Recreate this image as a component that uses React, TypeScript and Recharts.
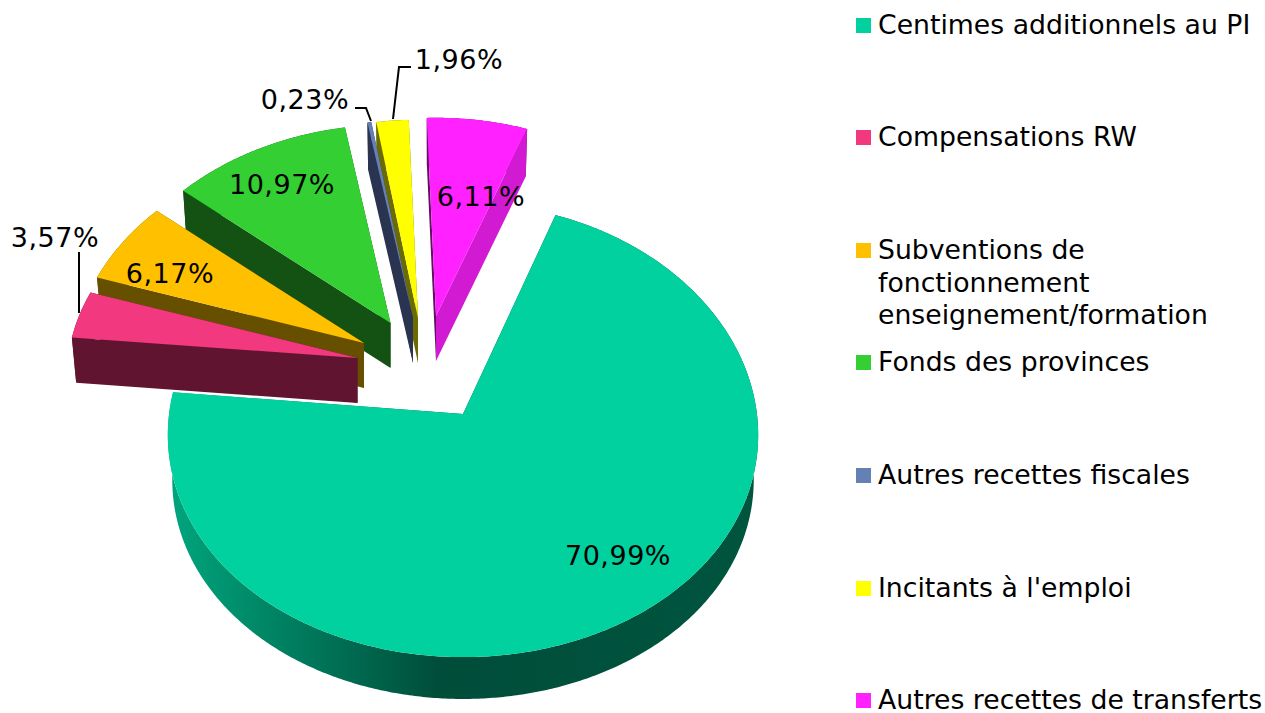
import { PieChart, Pie, Legend } from 'recharts';

const categories = [
  'Centimes additionnels au PI',
  'Compensations RW',
  'Subventions de fonctionnement enseignement/formation',
  'Fonds des provinces',
  'Autres recettes fiscales',
  "Incitants à l'emploi",
  'Autres recettes de transferts',
];
const shares = [70.99, 3.57, 6.17, 10.97, 0.23, 1.96, 6.11];
const shareLabels = ['70,99%', '3,57%', '6,17%', '10,97%', '0,23%', '1,96%', '6,11%'];
const topColors = ['#00D19E', '#F2387F', '#FFC000', '#33CF33', '#6480B4', '#FFFF00', '#FF21FF'];
const faceColors = ['url(#mainWall)', '#601430', '#665000', '#145214', '#2A3350', '#6B6B00', '#660D66'];
const otherFaceColors = ['url(#mainWall)', '#601430', '#665000', '#145214', '#2A3350', '#6B6B00', '#D31AD3'];

// how far each slice is pulled out of the pie, from the centre
const explodeX = [0, -105.5, -99, -72.5, -50, -45, -27];
const explodeY = [0, -56, -71, -91, -96, -96, -98];
const labelX = [618, 55, 170, 282, 305, 459, 481];
const labelY = [555, 237, 273, 184, 99, 59, 196];
const leaderLines: (string | null)[] = [
  null,
  '79,252 79,313',
  null,
  null,
  '355,108 366,108 371,121',
  '411,67 399,67 393,119',
  null,
];
const legendRows = [25, 137, 250, 362, 475, 588, 700];
const legendLines = [
  ['Centimes additionnels au PI'],
  ['Compensations RW'],
  ['Subventions de', 'fonctionnement', 'enseignement/formation'],
  ['Fonds des provinces'],
  ['Autres recettes fiscales'],
  ["Incitants à l'emploi"],
  ['Autres recettes de transferts'],
];
const drawOrder = [6, 5, 4, 3, 2, 1, 0];

const data = categories.map((name, i) => ({ name, value: shares[i], fill: topColors[i] }));

const FONT = '"DejaVu Sans", Verdana, sans-serif';
const CX = 463;
const CY = 414;
const RADIUS = 296;
const DEPTH = 45;

// rough perspective: the far side of the disc comes out smaller,
// and the pulled slices sit further back so they shrink a bit more
function project(deg: number, r: number, pulled: boolean, low: boolean) {
  const t = ((90 - deg) * Math.PI) / 180;
  const c = Math.cos(t);
  const s = Math.sin(t);
  const sx = (pulled ? 0.985 : 1) * (low ? 0.985 : 1);
  const sy = (pulled ? 0.94 : 1) * (low ? 0.987 : 1);
  return {
    x: ((r * 0.993 * s) / (1 + 0.092 * c)) * sx,
    y: ((-r * 0.763 * c) / (1 + 0.071 * c)) * sy,
  };
}

function arcPoints(start: number, end: number, r: number, ox: number, oy: number, pulled: boolean, low: boolean) {
  const steps = Math.max(2, Math.ceil(Math.abs(end - start) * 2));
  const pts: string[] = [];
  for (let i = 0; i <= steps; i++) {
    const p = project(start + ((end - start) * i) / steps, r, pulled, low);
    pts.push(`${ox + p.x},${oy + p.y}`);
  }
  return pts;
}

function sliceShape(target: number) {
  return (props: any) => {
    if (props.name !== categories[target]) return <g />;
    const { cx, cy, startAngle, endAngle, outerRadius } = props;
    const ox = cx + explodeX[target];
    const oy = cy + explodeY[target];
    const pulled = target !== 0;
    const top = arcPoints(startAngle, endAngle, outerRadius, ox, oy, pulled, false);
    const low = arcPoints(startAngle, endAngle, outerRadius, ox, oy + DEPTH, pulled, true);
    const apexLow = `${ox},${oy + DEPTH}`;
    const apexTop = `${ox},${oy}`;
    return (
      <g>
        <polygon points={[...top, ...low.slice().reverse()].join(' ')} fill={faceColors[target]} />
        <polygon points={[apexTop, top[0], low[0], apexLow].join(' ')} fill={faceColors[target]} />
        <polygon
          points={[apexTop, top[top.length - 1], low[low.length - 1], apexLow].join(' ')}
          fill={otherFaceColors[target]}
        />
        <polygon points={[apexTop, ...top].join(' ')} fill={topColors[target]} />
      </g>
    );
  };
}

function renderLabel(props: any) {
  const i = categories.indexOf(props.name);
  const line = leaderLines[i];
  return (
    <g key={i}>
      {line && <polyline points={line} fill="none" stroke="#000" strokeWidth={2} />}
      <text
        x={labelX[i]}
        y={labelY[i]}
        textAnchor="middle"
        dominantBaseline="central"
        fontFamily={FONT}
        fontSize={27}
        letterSpacing={0.5}
        fill="#000"
      >
        {shareLabels[i]}
      </text>
    </g>
  );
}

function renderLegend(props: any) {
  // every layer of the pie reports its slices, keep one entry per category
  const seen = new Set<string>();
  const items = (props.payload ?? []).filter((item: any) => {
    if (seen.has(item.value)) return false;
    seen.add(item.value);
    return true;
  });
  return (
    <div style={{ position: 'relative', width: 409, height: 713, fontFamily: FONT, fontSize: 26.7 }}>
      {items.map((item: any) => {
        const i = categories.indexOf(item.value);
        return (
          <div key={item.value} style={{ position: 'absolute', left: 0, top: legendRows[i] - 13, whiteSpace: 'nowrap' }}>
            <span style={{ position: 'absolute', left: 0, top: 6, width: 15, height: 15, background: topColors[i] }} />
            <div style={{ marginLeft: 22, color: '#000' }}>
              {legendLines[i].map((l) => (
                <div key={l} style={{ height: 26, lineHeight: '26px', marginBottom: 6.5 }}>
                  {l}
                </div>
              ))}
            </div>
          </div>
        );
      })}
    </div>
  );
}

export default function App() {
  return (
    <div style={{ position: 'absolute', left: 0, top: 0, width: 1265, height: 713, overflow: 'hidden', background: '#fff' }}>
      <PieChart width={1265} height={713} margin={{ top: 0, right: 0, bottom: 0, left: 0 }}>
        <defs>
          <linearGradient id="mainWall" gradientUnits="userSpaceOnUse" x1={168} y1={0} x2={758} y2={0}>
            <stop offset="0" stopColor="#00A67E" />
            <stop offset="0.46" stopColor="#004D3A" />
            <stop offset="1" stopColor="#00553F" />
          </linearGradient>
        </defs>
        {drawOrder.map((target) => (
          <Pie
            key={target}
            data={data}
            dataKey="value"
            nameKey="name"
            cx={CX}
            cy={CY}
            outerRadius={RADIUS}
            startAngle={70}
            endAngle={-290}
            stroke="none"
            shape={sliceShape(target)}
            isAnimationActive={false}
          />
        ))}
        <Pie
          data={data}
          dataKey="value"
          nameKey="name"
          cx={CX}
          cy={CY}
          outerRadius={RADIUS}
          startAngle={70}
          endAngle={-290}
          shape={() => <g />}
          label={renderLabel}
          labelLine={false}
          isAnimationActive={false}
        />
        <Legend
          layout="vertical"
          align="right"
          verticalAlign="top"
          wrapperStyle={{ left: 856, top: 0, width: 409, height: 713 }}
          content={renderLegend}
        />
      </PieChart>
    </div>
  );
}
